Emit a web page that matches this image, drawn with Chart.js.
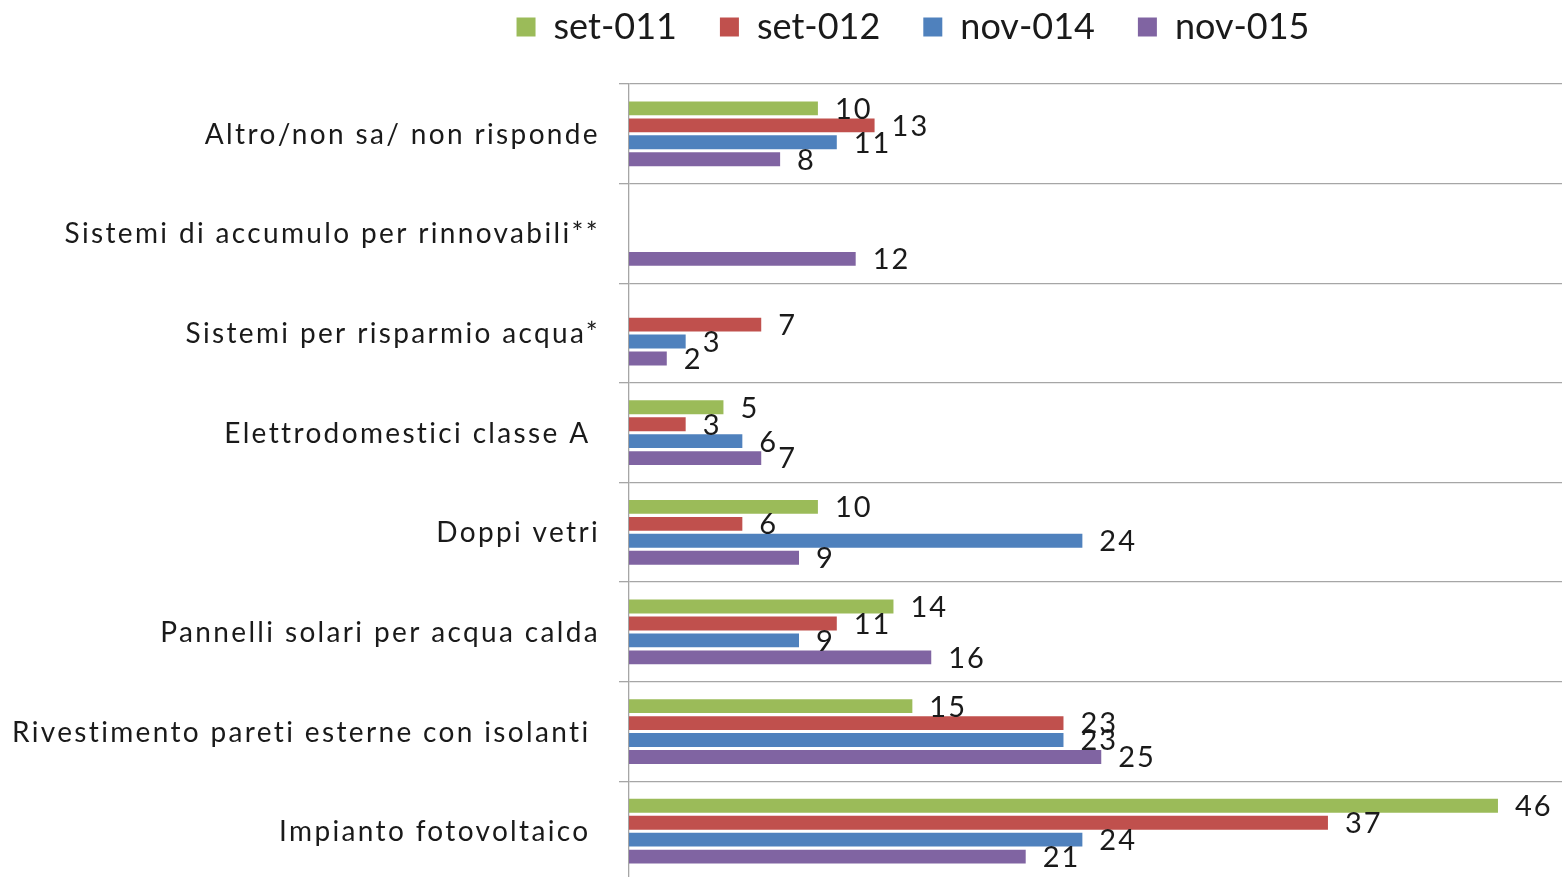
<!DOCTYPE html>
<html lang="it">
<head>
  <meta charset="UTF-8">
  <script src="https://cdn.jsdelivr.net/npm/chart.js@4.4.1/dist/chart.umd.min.js"></script>
  <title>Interventi di efficienza energetica</title>
  <style>
    html, body { margin: 0; padding: 0; background: #fff; overflow: hidden; }
    #wrap { position: relative; width: 1562px; height: 881px; }
  </style>
</head>
<body>
  <div id="wrap"><canvas id="chart"></canvas></div>

  <script>
    // categories, top to bottom (trailing spaces are in the source labels)
    const categories = [
      'Altro/non sa/ non risponde',
      'Sistemi di accumulo per rinnovabili**',
      'Sistemi per risparmio acqua*',
      'Elettrodomestici classe A ',
      'Doppi vetri',
      'Pannelli solari per acqua calda',
      'Rivestimento pareti esterne con isolanti ',
      'Impianto fotovoltaico '
    ];

    // series (null = not asked in that wave)
    const set011 = [10, null, null, 5, 10, 14, 15, 46];
    const set012 = [13, null, 7, 3, 6, 11, 23, 37];
    const nov014 = [11, null, 3, 6, 24, 9, 23, 24];
    const nov015 = [8, 12, 2, 7, 9, 16, 25, 21];

    const seriesNames = ['set-011', 'set-012', 'nov-014', 'nov-015'];
    const seriesColors = ['#9BBB59', '#C0504D', '#4F81BD', '#8064A2'];

    const fontFamily = 'Lato, "Open Sans", sans-serif';
    const textColor = '#1a1a1a';

    // 01 value labels to the right of each bar
    const barLabels = {
      id: 'barLabels',
      afterDatasetsDraw(chart) {
        const ctx = chart.ctx;
        ctx.save();
        ctx.font = '29px ' + fontFamily;
        ctx.letterSpacing = '2px';
        ctx.fillStyle = textColor;
        ctx.textBaseline = 'middle';
        ctx.textAlign = 'left';
        chart.data.datasets.forEach((ds, i) => {
          chart.getDatasetMeta(i).data.forEach((bar, j) => {
            const v = ds.data[j];
            if (v == null) return;
            ctx.fillText(String(v), bar.x + 17, bar.y + 1);
          });
        });
        ctx.restore();
      }
    };

    // 02 category labels (wide letter spacing, like the original font)
    const categoryLabels = {
      id: 'categoryLabels',
      afterDraw(chart) {
        const ctx = chart.ctx;
        const yScale = chart.scales.y;
        ctx.save();
        ctx.font = '28px ' + fontFamily;
        ctx.letterSpacing = '2.35px';
        ctx.fillStyle = textColor;
        ctx.textBaseline = 'middle';
        ctx.textAlign = 'right';
        chart.data.labels.forEach((label, i) => {
          ctx.fillText(label, 600, yScale.getPixelForTick(i) + 1);
        });
        ctx.restore();
      }
    };

    // 03 move the legend up and to the right, as in the original
    const legendShift = {
      id: 'legendShift',
      afterLayout(chart) {
        const lg = chart.legend;
        if (!lg) return;
        lg.top -= 29; lg.bottom -= 29;
        lg.left += 132; lg.right += 132;
      }
    };

    const allSeries = [set011, set012, nov014, nov015];
    const datasets = allSeries.map((values, i) => ({
      label: seriesNames[i],
      data: values,
      backgroundColor: seriesColors[i],
      borderWidth: 0,
      categoryPercentage: 0.68,
      barPercentage: 0.82
    }));

    const elChart = document.getElementById('chart').getContext('2d');
    const myChart = new Chart(elChart, {
      type: 'bar',
      data: { labels: categories, datasets: datasets },
      plugins: [barLabels, categoryLabels, legendShift],
      options: {
        indexAxis: 'y',
        responsive: true,
        maintainAspectRatio: false,
        animation: false,
        layout: { padding: { top: -5, right: 0, bottom: 0, left: 0 } },
        plugins: {
          tooltip: { enabled: false },
          legend: {
            position: 'top',
            align: 'center',
            labels: {
              boxWidth: 19,
              boxHeight: 19,
              padding: 43,
              color: textColor,
              font: { family: fontFamily, size: 36 }
            }
          }
        },
        scales: {
          x: {
            display: false,
            min: 0,
            max: 49.39
          },
          y: {
            afterFit: function(scale) { scale.width = 629; },
            grid: {
              color: '#A6A6A6',
              lineWidth: 1.3,
              tickLength: 10,
              offset: true
            },
            border: { color: '#A6A6A6', width: 1.3 },
            ticks: { display: false }
          }
        }
      }
    });
  </script>
</body>
</html>
